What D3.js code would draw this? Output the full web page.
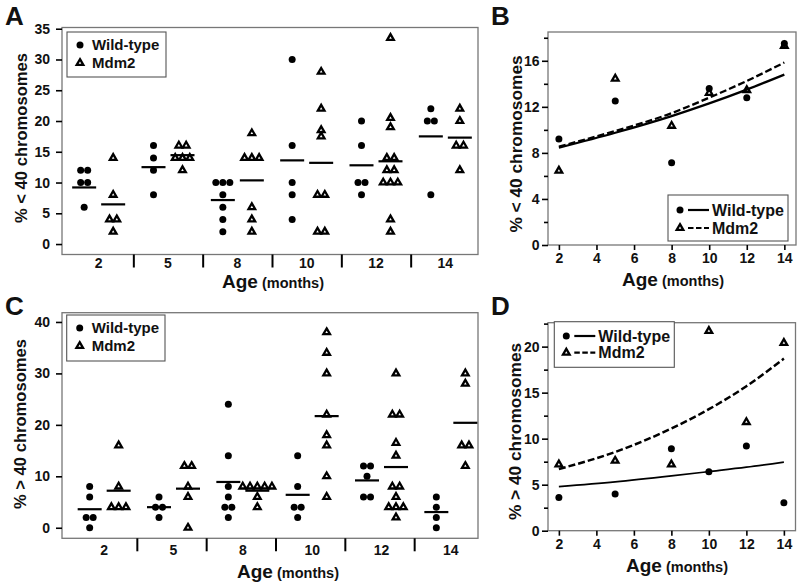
<!DOCTYPE html>
<html><head><meta charset="utf-8">
<script src="https://cdn.jsdelivr.net/npm/d3@7"></script>
<style>
body{margin:0;background:#fff}
svg{display:block}
text{font-family:"Liberation Sans",Arial,Helvetica,sans-serif;font-weight:bold;fill:#111}
</style>
</head><body>
<svg id="chart" width="800" height="583"></svg>
<script>
// ---------------- DATA ----------------
const ages = [2, 5, 8, 10, 12, 14];
const ageLabels = ["2", "5", "8", "10", "12", "14"];
const seriesNames = ["Wild-type", "Mdm2"];

// Panel A: % < 40 chromosomes, individual animals
const wtBelowRaw = [[12,12,10,10,6],[16,14,12,8],[10,10,10,8,6,4,2],[30,16,10,8,4],[20,16,10,10,8],[22,20,20,8]];
const mdmBelowRaw = [[14,8,4,4,2],[16,16,14,14,14,12],[18,14,14,14,6,4,2],[28,22,18.5,17.5,8,8,2,2],[33.5,20.5,19,14,14,12,12,10,10,10,4,2],[22,20,16,16,12]];
// group means (lines in A, points in B)
const wtBelowMean = [9.2, 12.5, 7.15, 13.6, 12.8, 17.5];
const mdmBelowMean = [6.45, 14.45, 10.35, 13.2, 13.45, 17.3];
// fitted curves in B
const wtBelowFit = [8.45, 9.75, 11.2, 12.3, 13.5, 14.8];
const mdmBelowFit = [8.55, 9.9, 11.45, 12.8, 14.25, 15.85];

// Panel C: % > 40 chromosomes
const wtAboveRaw = [[8,6,2,2,0],[6,4,4,2],[24,14,8,6,4,4,2],[14,8,4,4,2],[12,12,10,6,6],[6,4,2,0]];
const mdmAboveRaw = [[16,8,4,4,4],[12,12,8,6,0],[8,8,8,8,8,6,4],[38,34,30,22,18,16,10,6],[30,22,22,16.5,14,8,8,6,4,4,4,2],[30,28,16,16,12]];
const wtAboveMean = [3.6, 4.0, 8.9, 6.4, 9.2, 3.05];
const mdmAboveMean = [7.2, 7.6, 7.2, 21.7, 11.8, 20.4];
const wtAboveFit = [4.78, 5.3, 5.95, 6.42, 6.9, 7.46];
const mdmAboveFit = [6.7, 8.55, 11.1, 13.2, 15.7, 18.7];

// tick values
const yTicksA = [0, 5, 10, 15, 20, 25, 30, 35];
const yTicksB = [0, 4, 8, 12, 16];
const yMinorB = [2, 6, 10, 14, 18];
const yTicksC = [0, 10, 20, 30, 40];
const yTicksD = [0, 5, 10, 15, 20];
const yMinorD = [2.5, 7.5, 12.5, 17.5, 22.5];
const xTicksFit = [2, 4, 6, 8, 10, 12, 14];

// ---------------- DRAWING ----------------
const FONT = '"Liberation Sans", Arial, Helvetica, sans-serif';
const svg = d3.select("#chart");
const triPath = d3.symbol().type(d3.symbolTriangle).size(19)();

function styleAxis(g, size) {
  g.attr("font-family", FONT).attr("font-size", size).attr("font-weight", "bold");
  g.select(".domain").remove();
  g.selectAll(".tick line").attr("stroke", "#000").attr("stroke-width", 1.6);
  g.selectAll(".tick text").attr("fill", "#111");
}

function drawDot(g, x, y) {
  g.append("circle").attr("cx", x).attr("cy", y).attr("r", 3.5).attr("fill", "#000");
}
function drawTri(g, x, y) {
  g.append("path").attr("d", triPath).attr("transform", `translate(${x},${y})`)
    .attr("fill", "none").attr("stroke", "#000").attr("stroke-width", 2.3)
    .attr("stroke-linejoin", "miter");
}

function panelLetter(txt, x, y) {
  svg.append("text").attr("x", x).attr("y", y).attr("font-size", 26).text(txt);
}

function yTitle(txt, x, y, size) {
  svg.append("text").attr("transform", `translate(${x},${y}) rotate(-90)`)
    .attr("text-anchor", "middle").attr("font-size", size).text(txt);
}

function xTitle(cx, y) {
  const t = svg.append("text").attr("x", cx).attr("y", y).attr("text-anchor", "middle");
  t.append("tspan").attr("font-size", 19).text("Age");
  t.append("tspan").attr("font-size", 14.5).text(" (months)");
}

function dotPanel(o) {
  const { x0, x1, y0, y1 } = o;
  const y = d3.scaleLinear().domain(o.yDomain).range([y1, y0]);
  const band = d3.scaleBand().domain(ageLabels).range([x0 + o.shift, x1 + o.shift]);
  const bw = band.bandwidth();
  const g = svg.append("g");

  g.append("rect").attr("x", x0).attr("y", y0).attr("width", x1 - x0).attr("height", y1 - y0)
    .attr("fill", "none").attr("stroke", "#777").attr("stroke-width", 1.3);

  const ya = g.append("g").attr("transform", `translate(${x0},0)`)
    .call(d3.axisLeft(y).tickValues(o.yTicks).tickSize(6).tickPadding(6));
  styleAxis(ya, 14);

  ageLabels.slice(1).forEach(l => {
    g.append("line").attr("x1", band(l)).attr("x2", band(l)).attr("y1", y1).attr("y2", y1 + 13)
      .attr("stroke", "#000").attr("stroke-width", 2);
  });
  ageLabels.forEach(l => {
    g.append("text").attr("x", band(l) + bw / 2 + (o.wtOff + o.mdmOff) / 2).attr("y", o.catY)
      .attr("text-anchor", "middle").attr("font-size", 14).text(l);
  });

  const series = [
    { raw: o.wt, mean: o.wtMean, off: o.wtOff, draw: drawDot, sp: 7 },
    { raw: o.mdm, mean: o.mdmMean, off: o.mdmOff, draw: drawTri, sp: 7.3 }
  ];
  series.forEach(s => {
    ageLabels.forEach((l, gi) => {
      const cx = band(l) + bw / 2 + s.off;
      const groups = d3.group(s.raw[gi], v => v);
      groups.forEach((arr, v) => {
        const n = arr.length;
        arr.forEach((_, k) => s.draw(g, cx + (k - (n - 1) / 2) * s.sp, y(v)));
      });
      g.append("line").attr("x1", cx - 12).attr("x2", cx + 12)
        .attr("y1", y(s.mean[gi])).attr("y2", y(s.mean[gi]))
        .attr("stroke", "#000").attr("stroke-width", 2.2);
    });
  });

  // legend
  const L = o.legend;
  g.append("rect").attr("x", L.x).attr("y", L.y).attr("width", L.w).attr("height", L.h)
    .attr("fill", "#fff").attr("stroke", "#555").attr("stroke-width", 1.1);
  drawDot(g, L.x + 13, L.y + 13);
  drawTri(g, L.x + 13, L.y + 31);
  g.append("text").attr("x", L.x + 25).attr("y", L.y + 13).attr("dy", "0.36em").attr("font-size", 15).text(seriesNames[0]);
  g.append("text").attr("x", L.x + 25).attr("y", L.y + 31).attr("dy", "0.36em").attr("font-size", 15).text(seriesNames[1]);

  yTitle(o.yLabel, o.yTitleX, o.yTitleY, 16.6);
  xTitle(o.xTitleX, o.xTitleY);
  panelLetter(o.letter, 5, o.letterY);
}

function fitPanel(o) {
  const { x0, x1, y0, y1 } = o;
  const x = d3.scaleLinear().domain([1.42, 14.62]).range([x0, x1]);
  const y = d3.scaleLinear().domain([0, o.ymax]).range([y1, y0]);
  const g = svg.append("g");

  g.append("rect").attr("x", x0).attr("y", y0).attr("width", x1 - x0).attr("height", y1 - y0)
    .attr("fill", "none").attr("stroke", "#777").attr("stroke-width", 1.3);

  const ya = g.append("g").attr("transform", `translate(${x0},0)`)
    .call(d3.axisLeft(y).tickValues(o.yTicks).tickSize(6).tickPadding(2.5));
  styleAxis(ya, 14);
  const ym = g.append("g").attr("transform", `translate(${x0},0)`)
    .call(d3.axisLeft(y).tickValues(o.yMinor).tickSize(4).tickFormat(""));
  styleAxis(ym, 14);
  const xa = g.append("g").attr("transform", `translate(0,${y1})`)
    .call(d3.axisBottom(x).tickValues(xTicksFit).tickSize(5).tickPadding(3));
  styleAxis(xa, 14);

  const line = d3.line().x((d, i) => x(ages[i])).y(d => y(d)).curve(d3.curveMonotoneX);
  g.append("path").attr("d", line(o.wtFit)).attr("fill", "none").attr("stroke", "#000").attr("stroke-width", o.wtW);
  g.append("path").attr("d", line(o.mdmFit)).attr("fill", "none").attr("stroke", "#000")
    .attr("stroke-width", o.mdmW).attr("stroke-dasharray", "7,3");

  o.wtPts.forEach((v, i) => drawDot(g, x(ages[i]), y(v)));
  o.mdmPts.forEach((v, i) => drawTri(g, x(ages[i]), y(v)));

  const L = o.legend;
  g.append("rect").attr("x", L.x).attr("y", L.y).attr("width", L.w).attr("height", L.h)
    .attr("fill", "#fff").attr("stroke", "#555").attr("stroke-width", 1.1);
  drawDot(g, L.x + 12, L.y + L.r1);
  drawTri(g, L.x + 12, L.y + L.r2);
  g.append("line").attr("x1", L.x + 20).attr("x2", L.x + 41).attr("y1", L.y + L.r1).attr("y2", L.y + L.r1)
    .attr("stroke", "#000").attr("stroke-width", 2.2);
  g.append("line").attr("x1", L.x + 20).attr("x2", L.x + 41).attr("y1", L.y + L.r2).attr("y2", L.y + L.r2)
    .attr("stroke", "#000").attr("stroke-width", 2.2).attr("stroke-dasharray", "5.5,2.5");
  g.append("text").attr("x", L.x + 44).attr("y", L.y + L.r1).attr("dy", "0.36em").attr("font-size", 16).text(seriesNames[0]);
  g.append("text").attr("x", L.x + 44).attr("y", L.y + L.r2).attr("dy", "0.36em").attr("font-size", 16).text(seriesNames[1]);

  yTitle(o.yLabel, o.yTitleX, o.yTitleY, 17.3);
  xTitle(o.xTitleX, o.xTitleY);
  panelLetter(o.letter, 491, o.letterY);
}

// Panel A
dotPanel({
  x0: 62, x1: 478, y0: 27.5, y1: 254.5, yDomain: [-1.7, 35.2], yTicks: yTicksA,
  shift: 2.5, wtOff: -15, mdmOff: 14, catY: 268,
  wt: wtBelowRaw, mdm: mdmBelowRaw, wtMean: wtBelowMean, mdmMean: mdmBelowMean,
  legend: { x: 67, y: 32, w: 99, h: 45 },
  yLabel: "% < 40 chromosomes", yTitleX: 27, yTitleY: 138,
  xTitleX: 273, xTitleY: 288, letter: "A", letterY: 25
});

// Panel B
fitPanel({
  x0: 548, x1: 796, y0: 32, y1: 245, ymax: 18.5, yTicks: yTicksB, yMinor: yMinorB,
  wtFit: wtBelowFit, mdmFit: mdmBelowFit, wtPts: wtBelowMean, mdmPts: mdmBelowMean,
  wtW: 2.3, mdmW: 2.3,
  legend: { x: 668, y: 195, w: 120, h: 46, r1: 15, r2: 33 },
  yLabel: "% < 40 chromosomes", yTitleX: 522, yTitleY: 144,
  xTitleX: 673, xTitleY: 286, letter: "B", letterY: 25
});

// Panel C
dotPanel({
  x0: 62, x1: 478, y0: 312.7, y1: 538.3, yDomain: [-2.05, 41.8], yTicks: yTicksC,
  shift: 6, wtOff: -13, mdmOff: 16, catY: 555,
  wt: wtAboveRaw, mdm: mdmAboveRaw, wtMean: wtAboveMean, mdmMean: mdmAboveMean,
  legend: { x: 66.7, y: 315, w: 98.3, h: 46 },
  yLabel: "% > 40 chromosomes", yTitleX: 26, yTitleY: 424,
  xTitleX: 288, xTitleY: 578, letter: "C", letterY: 315
});

// Panel D
fitPanel({
  x0: 548, x1: 795.5, y0: 322.7, y1: 530.7, ymax: 22.6, yTicks: yTicksD, yMinor: yMinorD,
  wtFit: wtAboveFit, mdmFit: mdmAboveFit, wtPts: wtAboveMean, mdmPts: mdmAboveMean,
  wtW: 1.7, mdmW: 2.5,
  legend: { x: 554.3, y: 321.7, w: 120, h: 45.6, r1: 14.3, r2: 31 },
  yLabel: "% > 40 chromosomes", yTitleX: 521, yTitleY: 431.5,
  xTitleX: 677, xTitleY: 572, letter: "D", letterY: 315
});
</script>
</body></html>
